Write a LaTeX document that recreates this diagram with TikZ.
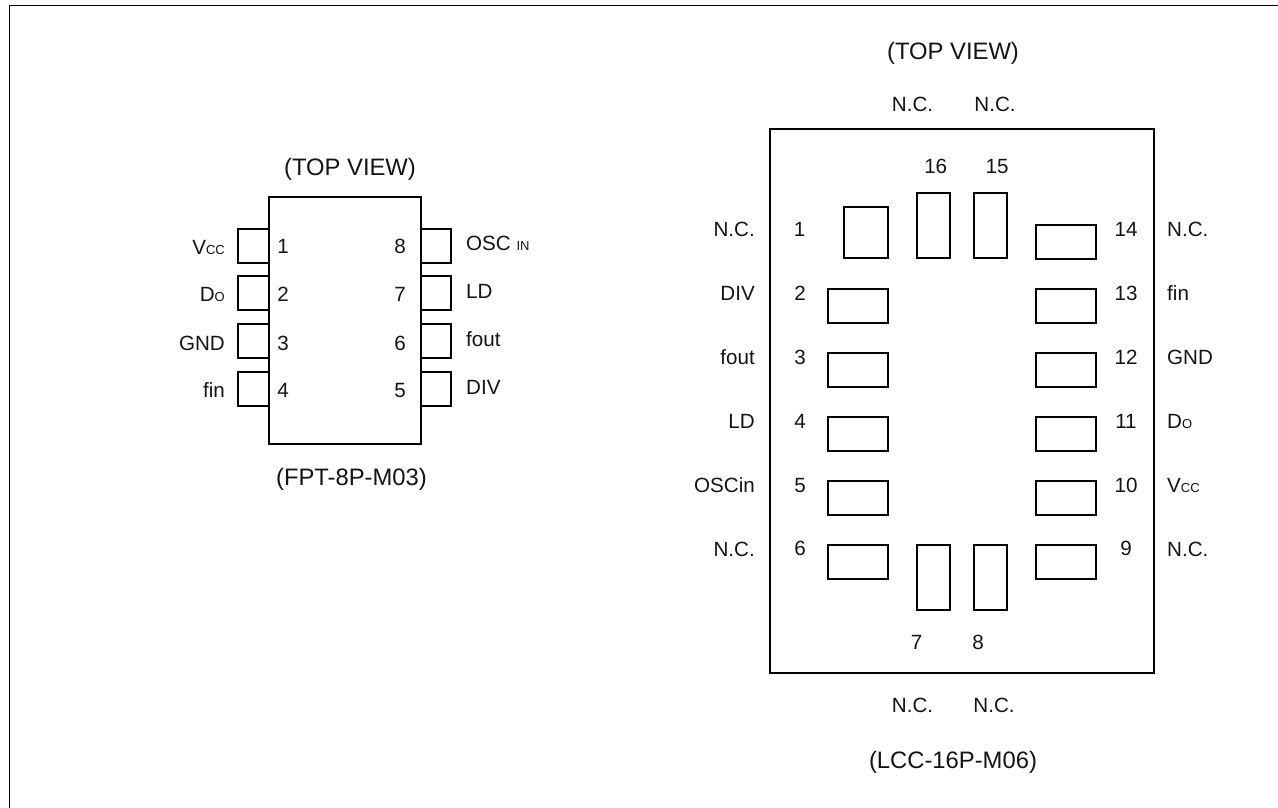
\documentclass[tikz,border=0pt]{standalone}
\usepackage{fontspec}
\setmainfont{Liberation Sans}
\newcommand{\mysub}[1]{{\fontsize{13}{13}\selectfont #1}}
\tikzset{
  lab/.style={inner sep=0pt,font=\fontsize{20.6}{22}\selectfont,text=black!92},
  lc/.style={lab,anchor=base},
  lr/.style={lab,anchor=base east},
  ll/.style={lab,anchor=base west},
  ttl/.style={lab,anchor=base,font=\fontsize{23.8}{25}\selectfont},
  box/.style={draw=black,line width=2.2pt,line join=miter},
}
\begin{document}
\begin{tikzpicture}[x=1pt,y=-1pt]
\useasboundingbox (0,0) rectangle (1278,808);
\fill[white] (0,0) rectangle (1278,808);
\draw[black,line width=1.4pt] (9.5,808) -- (9.5,5.5) -- (1278,5.5);
% FPT-8P
\foreach \ya/\yb in {229/263,276/310,324/358,372/406}{
  \draw[box] (238,\ya) rectangle (269,\yb);
  \draw[box] (421,\ya) rectangle (451,\yb);
}
\draw[box,fill=white] (269,197) rectangle (421,444);
\node[ttl] (t1) at (350,175) {(TOP VIEW)};
\node[ttl] (f1) at (351.5,485) {(FPT-8P-M03)};
\node[lc] (a1) at (283,253.5) {1};
\node[lc] (a2) at (283,301.7) {2};
\node[lc] (a3) at (283,350) {3};
\node[lc] (a4) at (283,397.7) {4};
\node[lc] (a8) at (400,253.5) {8};
\node[lc] (a7) at (400,301.7) {7};
\node[lc] (a6) at (400,350) {6};
\node[lc] (a5) at (400,397.7) {5};
\node[lr] (av) at (225,254) {V\mysub{CC}};
\node[lr] (ad) at (225,301.7) {D\mysub{O}};
\node[lr] (ag) at (225,350) {GND};
\node[lr] (af) at (225,397.7) {fin};
\node[ll] (ao) at (466,250) {OSC \mysub{IN}};
\node[ll] (al) at (466,298) {LD};
\node[ll] (at) at (466,346) {fout};
\node[ll] (ai) at (466,394) {DIV};
% LCC-16P
\draw[box] (770,129) rectangle (1154,673);
\draw[box] (844,207) rectangle (888,258);
\draw[box] (917,193) rectangle (950,258);
\draw[box] (974,193) rectangle (1007,258);
\foreach \yy in {225,289,353,417,481,545}
  \draw[box] (1036,\yy) rectangle (1096,\yy+34);
\foreach \yy in {289,353,417,481,545}
  \draw[box] (828,\yy) rectangle (888,\yy+34);
\draw[box] (917,545) rectangle (950,610);
\draw[box] (974,545) rectangle (1007,610);
\node[ttl] (t2) at (953,60) {(TOP VIEW)};
\node[ttl] (f2) at (953,768.5) {(LCC-16P-M06)};
\node[lc] (nt1) at (912.5,111) {N.C.};
\node[lc] (nt2) at (995,111) {N.C.};
\node[lc] (nb1) at (912.5,712.7) {N.C.};
\node[lc] (nb2) at (994,712.7) {N.C.};
\node[lc] (b16) at (935.7,173.3) {16};
\node[lc] (b15) at (997,173.3) {15};
\node[lc] (b7) at (916.7,649.3) {7};
\node[lc] (b8) at (978,649.3) {8};
\node[lc] (b1) at (799.5,236) {1};
\node[lc] (b2) at (800,300) {2};
\node[lc] (b3) at (800,364) {3};
\node[lc] (b4) at (800,428) {4};
\node[lc] (b5) at (800,492) {5};
\node[lc] (b6) at (800,555.7) {6};
\node[lc] (b14) at (1126,236) {14};
\node[lc] (b13) at (1126,300) {13};
\node[lc] (b12) at (1126,364) {12};
\node[lc] (b11) at (1126,428) {11};
\node[lc] (b10) at (1126,492) {10};
\node[lc] (b9) at (1126,555.7) {9};
\node[lr] (c1) at (755,236) {N.C.};
\node[lr] (c2) at (755,300) {DIV};
\node[lr] (c3) at (755,364) {fout};
\node[lr] (c4) at (755,428) {LD};
\node[lr] (c5) at (755,492) {OSCin};
\node[lr] (c6) at (755,556) {N.C.};
\node[ll] (c14) at (1167,236) {N.C.};
\node[ll] (c13) at (1167,300) {fin};
\node[ll] (c12) at (1167,364) {GND};
\node[ll] (c11) at (1167,428) {D\mysub{O}};
\node[ll] (c10) at (1167,492) {V\mysub{CC}};
\node[ll] (c9) at (1167,556) {N.C.};
\end{tikzpicture}
\end{document}
